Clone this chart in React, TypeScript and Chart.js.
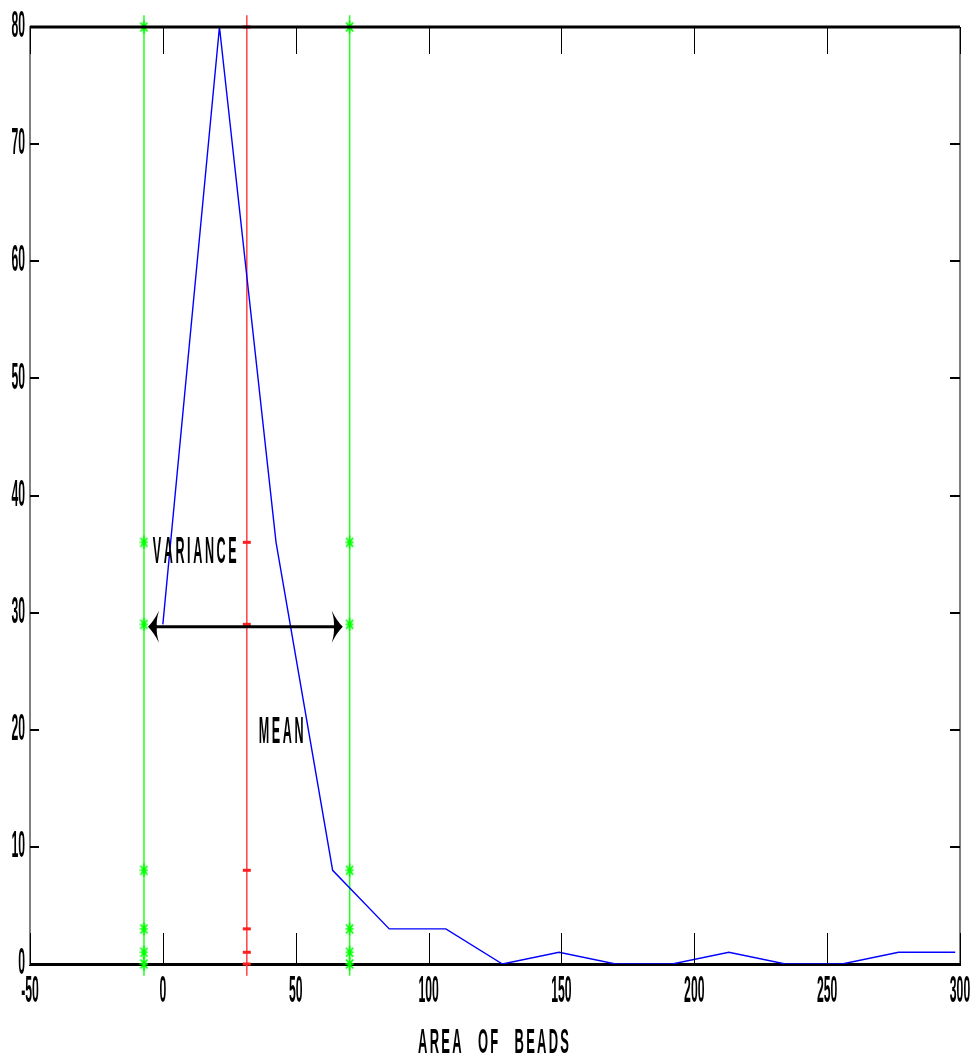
import React, { useEffect, useRef } from "react";
import { Chart, registerables } from "chart.js";

Chart.register(...registerables);

// ---- data ----
const binCenters = [0, 21.3, 42.6, 63.9, 85.2, 106.5, 127.8, 149.1, 170.4, 191.7, 213.0, 234.3, 255.6, 276.9, 298.2];
const beadCounts = [29, 80, 36, 8, 3, 3, 0, 1, 0, 0, 1, 0, 0, 1, 1];
const meanArea = 31.6;
const lowerBound = -7.1;
const upperBound = 70.3;
const markerLevels = [0, 1, 3, 8, 29, 36, 80];
const guideSpan = [-1, 81];
const xRange = [-50, 300];
const yRange = [0, 80];
const xStep = 50;
const yStep = 10;
const labels = { variance: "VARIANCE", mean: "MEAN", xTitle: "AREA OF BEADS" };

// ---- style constants ----
const SX = 0.33;
const FONT_FAMILY = '"Liberation Sans", Arial, sans-serif';
const FONT_SIZE = 37;

function makeStar(): HTMLCanvasElement {
  const c = document.createElement("canvas");
  c.width = 9;
  c.height = 14;
  const g = c.getContext("2d")!;
  g.strokeStyle = "#00ff00";
  g.lineWidth = 1.6;
  g.beginPath();
  g.moveTo(4.5, 0.5); g.lineTo(4.5, 13.5);
  g.moveTo(0.5, 7); g.lineTo(8.5, 7);
  g.moveTo(1, 2.5); g.lineTo(8, 11.5);
  g.moveTo(8, 2.5); g.lineTo(1, 11.5);
  g.stroke();
  return c;
}

function drawSpaced(ctx: CanvasRenderingContext2D, text: string, x0: number, yBase: number, size: number, gap: number, spaceAdv: number, sx: number) {
  ctx.save();
  ctx.font = `bold ${size}px ${FONT_FAMILY}`;
  ctx.textAlign = "left";
  ctx.textBaseline = "alphabetic";
  ctx.fillStyle = "#000";
  let x = x0;
  for (const ch of text) {
    if (ch === " ") { x += spaceAdv; continue; }
    const w = ctx.measureText(ch).width * sx;
    ctx.save();
    ctx.translate(x, yBase);
    ctx.scale(sx, 1);
    ctx.fillText(ch, 0, 0);
    ctx.restore();
    x += w + gap;
  }
  ctx.restore();
}

const squishPlugin = {
  id: "squish",
  afterUpdate(chart: any) {
    for (const id of ["x", "y"]) {
      const s: any = chart.scales[id];
      if (!s || s.__patched) continue;
      const orig = s.drawLabels.bind(s);
      s.drawLabels = (area: any) => {
        const ctx: any = s.ctx;
        const proto = CanvasRenderingContext2D.prototype.fillText;
        ctx.fillText = function (t: string, x: number, y: number) {
          this.save();
          this.translate(x, y);
          this.scale(SX, 1);
          proto.call(this, t, 0, 0);
          this.restore();
        };
        try { orig(area); } finally { delete ctx.fillText; }
      };
      s.__patched = true;
    }
  },
};

const framePlugin = {
  id: "frame",
  afterDraw(chart: any) {
    const ctx: CanvasRenderingContext2D = chart.ctx;
    const { left, right, top, bottom } = chart.chartArea;
    const xs = chart.scales.x;
    const ys = chart.scales.y;
    ctx.save();
    // top and right border
    ctx.strokeStyle = "#000";
    ctx.lineWidth = 3;
    ctx.beginPath(); ctx.moveTo(left, top); ctx.lineTo(right, top); ctx.stroke();
    ctx.strokeStyle = "#808080";
    ctx.lineWidth = 2;
    ctx.beginPath(); ctx.moveTo(right, top); ctx.lineTo(right, bottom); ctx.stroke();
    // inward ticks x
    ctx.strokeStyle = "#000";
    ctx.lineWidth = 1;
    for (const t of xs.ticks) {
      const px = Math.round(xs.getPixelForValue(t.value)) + 0.5;
      ctx.beginPath(); ctx.moveTo(px, bottom); ctx.lineTo(px, bottom - 31); ctx.stroke();
      ctx.beginPath(); ctx.moveTo(px, top); ctx.lineTo(px, top + 27); ctx.stroke();
    }
    ctx.lineWidth = 2;
    for (const t of ys.ticks) {
      const py = Math.round(ys.getPixelForValue(t.value));
      ctx.beginPath(); ctx.moveTo(left, py); ctx.lineTo(left + 9, py); ctx.stroke();
      ctx.beginPath(); ctx.moveTo(right, py); ctx.lineTo(right - 10, py); ctx.stroke();
    }
    // double arrow (variance span)
    const ay = ys.getPixelForValue(28.8);
    const ax1 = xs.getPixelForValue(-5.6);
    const ax2 = xs.getPixelForValue(67.7);
    ctx.lineWidth = 3;
    ctx.beginPath(); ctx.moveTo(ax1 + 4, ay); ctx.lineTo(ax2 - 4, ay); ctx.stroke();
    ctx.fillStyle = "#000";
    const head = (tip: number, dir: number) => {
      ctx.beginPath();
      ctx.moveTo(tip, ay);
      ctx.quadraticCurveTo(tip + dir * 6, ay - 6, tip + dir * 11, ay - 16);
      ctx.quadraticCurveTo(tip + dir * 8, ay - 6, tip + dir * 9, ay);
      ctx.quadraticCurveTo(tip + dir * 8, ay + 6, tip + dir * 11, ay + 16);
      ctx.quadraticCurveTo(tip + dir * 6, ay + 6, tip, ay);
      ctx.fill();
    };
    head(ax1, 1);
    head(ax2, -1);
    ctx.restore();
    // annotation texts
    drawSpaced(ctx, labels.variance, xs.getPixelForValue(-3.8), ys.getPixelForValue(34.2), FONT_SIZE, 2.6, 12, 0.34);
    drawSpaced(ctx, labels.mean, xs.getPixelForValue(36.1), ys.getPixelForValue(18.9), FONT_SIZE, 2.6, 12, 0.34);
    drawSpaced(ctx, labels.xTitle, 418, 1053, 35, 2.3, 14, 0.37);
  },
};

export default function App() {
  const ref = useRef<HTMLCanvasElement | null>(null);
  useEffect(() => {
    if (!ref.current) return;
    const star = makeStar();
    const line = (x: number) => guideSpan.map((y) => ({ x, y }));
    const marks = (x: number) => markerLevels.map((y) => ({ x, y }));
    const chart = new Chart(ref.current, {
      type: "line",
      data: {
        datasets: [
          { data: line(lowerBound), borderColor: "#22ff22", borderWidth: 1.5, pointRadius: 0, clip: false as any, order: 5 },
          { data: line(upperBound), borderColor: "#22ff22", borderWidth: 1.5, pointRadius: 0, clip: false as any, order: 5 },
          { data: line(meanArea), borderColor: "#ff4040", borderWidth: 1.5, pointRadius: 0, clip: false as any, order: 5 },
          { data: marks(lowerBound), showLine: false, pointStyle: star as any, pointRadius: 5, clip: false as any, order: 4 },
          { data: marks(upperBound), showLine: false, pointStyle: star as any, pointRadius: 5, clip: false as any, order: 4 },
          { data: marks(meanArea), showLine: false, pointStyle: "line", pointRadius: 4, pointBorderWidth: 3, pointBorderColor: "#ff2020", borderColor: "#ff2020", clip: false as any, order: 4 },
          { data: binCenters.map((x, i) => ({ x, y: beadCounts[i] })), borderColor: "#0000ff", borderWidth: 1.4, pointRadius: 0, tension: 0, order: 1 },
        ],
      },
      options: {
        responsive: false,
        animation: false,
        devicePixelRatio: 1,
        layout: { padding: { top: 27, right: 15, left: 0, bottom: 0 } },
        plugins: { legend: { display: false }, tooltip: { enabled: false }, title: { display: false } },
        elements: { line: { fill: false } },
        scales: {
          x: {
            type: "linear",
            min: xRange[0],
            max: xRange[1],
            grid: { display: false, drawTicks: false },
            border: { display: true, color: "#000", width: 3 },
            ticks: {
              stepSize: xStep,
              autoSkip: false,
              maxRotation: 0,
              minRotation: 0,
              padding: 9,
              color: "#000",
              font: { family: FONT_FAMILY, size: FONT_SIZE, weight: "bold", lineHeight: 1 },
            },
            afterFit: (s: any) => { s.height = 95; s.paddingLeft = 0; s.paddingRight = 0; },
          },
          y: {
            type: "linear",
            min: yRange[0],
            max: yRange[1],
            grid: { display: false, drawTicks: false },
            border: { display: true, color: "#808080", width: 2 },
            ticks: {
              stepSize: yStep,
              autoSkip: false,
              padding: 5,
              color: "#000",
              font: { family: FONT_FAMILY, size: FONT_SIZE, weight: "bold", lineHeight: 1 },
            },
            afterFit: (s: any) => { s.width = 30; s.paddingTop = 0; s.paddingBottom = 0; },
          },
        },
      },
      plugins: [squishPlugin, framePlugin],
    } as any);
    return () => chart.destroy();
  }, []);
  return (
    <div style={{ position: "absolute", left: 0, top: 0, width: 975, height: 1059, background: "#fff" }}>
      <canvas ref={ref} width={975} height={1059} />
    </div>
  );
}
